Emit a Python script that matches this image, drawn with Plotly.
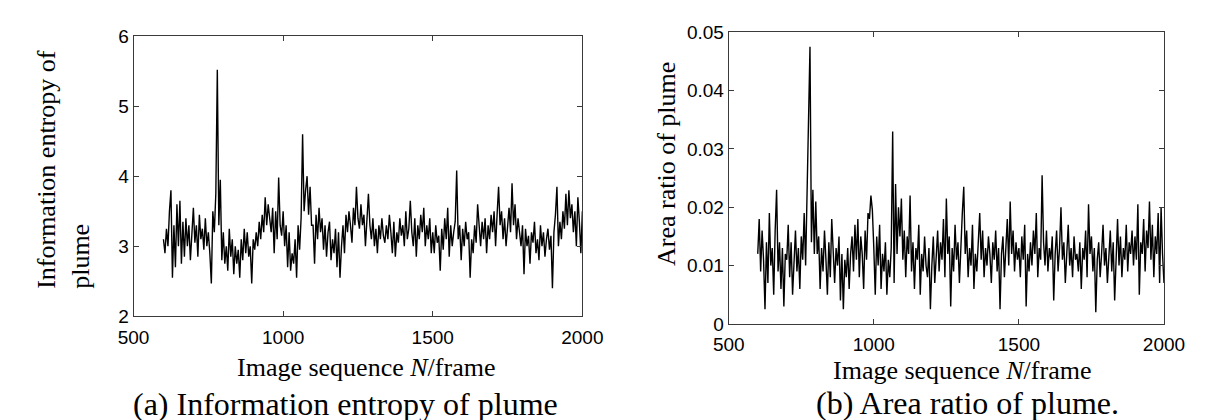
import plotly.graph_objects as go

# ---------------- data (one value every 5 frames) -------------
frames = list(range(600, 2001, 5))

entropy = [
    3.1, 2.9, 3.25, 3.0, 3.5, 3.8, 2.55, 3.3, 2.7, 3.6, 3.0, 3.65, 2.75, 3.35, 2.85, 3.4, 3.0, 3.3, 2.8, 3.15,
    3.55, 3.05, 3.3, 2.85, 3.45, 3.1, 3.25, 2.95, 3.4, 3.0, 3.2, 2.9, 2.47, 3.5, 3.2, 3.75, 5.52, 3.3, 3.95, 2.8,
    3.2, 2.75, 3.0, 2.65, 3.25, 2.85, 3.1, 2.6, 3.0, 2.75, 2.95, 2.55, 3.1, 2.8, 3.25, 2.9, 3.2, 2.85, 3.0, 2.47,
    3.1, 2.95, 3.2, 3.0, 3.35, 3.1, 3.45, 3.2, 3.7, 3.3, 3.6, 3.4, 3.2, 3.55, 2.9, 3.5, 3.1, 3.98, 3.3, 3.15,
    3.5, 3.0, 3.3, 2.7, 3.2, 2.65, 2.9, 2.75, 3.1, 2.55, 3.3, 2.95, 3.4, 4.6, 3.5, 3.8, 4.0, 3.45, 3.85, 3.3,
    3.3, 2.75, 3.45, 3.1, 3.55, 3.2, 3.4, 2.95, 3.3, 2.85, 3.2, 3.35, 2.8, 3.1, 2.9, 3.25, 2.7, 3.2, 2.55, 3.0,
    3.3, 2.9, 3.45, 3.2, 3.5, 3.3, 3.05, 3.55, 3.3, 3.85, 3.4, 3.25, 3.6, 3.3, 3.45, 3.0, 3.5, 3.75, 3.3, 3.1,
    3.4, 3.0, 3.25, 2.9, 3.3, 3.1, 3.4, 3.15, 3.05, 3.3, 3.1, 3.45, 3.2, 2.9, 3.35, 2.85, 3.2, 3.05, 3.4, 3.15,
    3.3, 3.0, 3.5, 3.1, 3.25, 3.65, 3.2, 3.0, 3.4, 2.85, 3.3, 3.1, 3.45, 3.2, 3.55, 3.0, 3.3, 3.1, 3.4, 2.9,
    3.2, 2.9, 3.3, 3.05, 3.15, 2.65, 3.25, 2.95, 3.4, 3.1, 3.55, 2.85, 3.3, 3.0, 3.2, 3.35, 4.08, 3.1, 3.3, 2.8,
    3.25, 3.0, 3.35, 3.1, 3.2, 2.55, 3.1, 2.9, 3.3, 3.05, 3.6, 3.2, 3.0, 3.35, 3.1, 3.4, 2.9, 3.3, 3.1, 3.45,
    3.2, 3.5, 3.0, 3.45, 3.85, 3.3, 3.5, 3.1, 3.4, 3.0, 3.35, 3.55, 3.2, 3.9, 3.3, 3.6, 3.1, 3.4, 3.2, 3.0,
    3.3, 2.6, 3.25, 3.0, 3.15, 2.75, 3.2, 3.05, 3.35, 2.9, 3.1, 2.8, 3.3, 3.0, 3.2, 2.85, 3.1, 3.25, 2.95, 3.15,
    2.4, 3.2, 3.45, 3.85, 3.0, 3.35, 3.1, 3.5, 3.25, 3.75, 3.3, 3.8, 3.4, 3.6, 3.2, 3.5, 3.0, 3.7, 3.35, 2.9,
    3.5,
]

area_ratio = [
    0.012, 0.018, 0.009, 0.016, 0.011, 0.0025, 0.014, 0.007, 0.019, 0.01, 0.013, 0.005, 0.016, 0.023, 0.009, 0.014, 0.006, 0.013, 0.003, 0.012,
    0.011, 0.017, 0.008, 0.014, 0.005, 0.012, 0.016, 0.009, 0.013, 0.006, 0.015, 0.011, 0.019, 0.01, 0.022, 0.032, 0.0475, 0.014, 0.023, 0.012,
    0.021, 0.012, 0.015, 0.006, 0.013, 0.009, 0.016, 0.011, 0.005, 0.014, 0.008, 0.018, 0.012, 0.007, 0.013, 0.01, 0.015, 0.004, 0.012, 0.0025,
    0.011, 0.008, 0.013, 0.006, 0.012, 0.015, 0.009, 0.017, 0.011, 0.018, 0.008, 0.015, 0.012, 0.006, 0.016, 0.011, 0.019, 0.018, 0.022, 0.0195,
    0.013, 0.005, 0.015, 0.01, 0.017, 0.006, 0.012, 0.009, 0.014, 0.005, 0.011, 0.008, 0.013, 0.033, 0.007, 0.024, 0.012, 0.02, 0.015, 0.0215,
    0.011, 0.016, 0.008, 0.015, 0.012, 0.022, 0.009, 0.014, 0.006, 0.013, 0.011, 0.017, 0.005, 0.012, 0.009, 0.015, 0.01, 0.008, 0.013, 0.0025,
    0.01, 0.015, 0.007, 0.012, 0.016, 0.009, 0.014, 0.011, 0.018, 0.008, 0.0215, 0.012, 0.015, 0.003, 0.013, 0.009, 0.017, 0.011, 0.014, 0.007,
    0.015, 0.019, 0.0235, 0.012, 0.016, 0.008, 0.013, 0.01, 0.017, 0.006, 0.012, 0.009, 0.014, 0.019, 0.011, 0.016, 0.008, 0.013, 0.01, 0.015,
    0.012, 0.007, 0.014, 0.011, 0.016, 0.009, 0.013, 0.0025, 0.012, 0.015, 0.008, 0.013, 0.018, 0.01, 0.021, 0.012, 0.016, 0.009, 0.014, 0.011,
    0.013, 0.008, 0.015, 0.011, 0.017, 0.003, 0.012, 0.009, 0.014, 0.01, 0.016, 0.012, 0.019, 0.008, 0.013, 0.011, 0.0255, 0.014, 0.01, 0.016,
    0.009, 0.013, 0.011, 0.015, 0.004, 0.012, 0.016, 0.009, 0.013, 0.02, 0.011, 0.014, 0.007, 0.012, 0.017, 0.01, 0.013, 0.008, 0.015, 0.011,
    0.012, 0.009, 0.014, 0.006, 0.013, 0.011, 0.016, 0.008, 0.0205, 0.012, 0.015, 0.009, 0.013, 0.002, 0.011, 0.014, 0.008, 0.012, 0.017, 0.01,
    0.013, 0.007, 0.012, 0.016, 0.009, 0.014, 0.004, 0.012, 0.018, 0.01, 0.015, 0.008, 0.013, 0.011, 0.017, 0.009, 0.014, 0.012, 0.016, 0.01,
    0.015, 0.011, 0.0205, 0.005, 0.014, 0.012, 0.018, 0.009, 0.016, 0.013, 0.021, 0.011, 0.017, 0.008, 0.015, 0.012, 0.019, 0.007, 0.02, 0.012,
    0.007,
]

x_ticks = [500, 1000, 1500, 2000]
entropy_ticks = [2, 3, 4, 5, 6]
ratio_ticks = [0, 0.01, 0.02, 0.03, 0.04, 0.05]
ratio_tick_labels = ["0", "0.01", "0.02", "0.03", "0.04", "0.05"]

# ---------------- figure ----------------
W, H = 1208, 420
TICKFONT = dict(family="Arial, Liberation Sans, sans-serif", size=19, color="black")
SERIF = "Times New Roman, Liberation Serif, serif"


def px_x(p):
    return p / W


def px_y(p):
    return (H - p) / H


fig = go.Figure()
fig.add_trace(go.Scatter(x=frames, y=entropy, mode="lines",
                         line=dict(color="black", width=1.4), xaxis="x", yaxis="y",
                         showlegend=False, hoverinfo="skip"))
fig.add_trace(go.Scatter(x=frames, y=area_ratio, mode="lines",
                         line=dict(color="black", width=1.4), xaxis="x2", yaxis="y2",
                         showlegend=False, hoverinfo="skip"))

axis_common = dict(showline=True, linecolor="#3a3a3a", linewidth=1, mirror="allticks",
                   ticks="inside", ticklen=5, tickcolor="#3a3a3a", showgrid=False,
                   zeroline=False, tickfont=TICKFONT, fixedrange=True)

fig.update_layout(
    width=W, height=H, autosize=False,
    margin=dict(l=0, r=0, t=0, b=0),
    paper_bgcolor="white", plot_bgcolor="white",
    xaxis=dict(domain=[px_x(113), px_x(576)], range=[500, 2000], tickvals=x_ticks,
               anchor="y", ticklabelstandoff=4, **axis_common),
    yaxis=dict(domain=[px_y(314), px_y(19)], range=[2, 6], tickvals=entropy_ticks,
               anchor="x", **axis_common),
    xaxis2=dict(domain=[px_x(727), px_x(1176)], range=[500, 2000], tickvals=x_ticks,
                anchor="y2", ticklabelstandoff=3, **axis_common),
    yaxis2=dict(domain=[px_y(322), px_y(15)], range=[0, 0.05], tickvals=ratio_ticks,
                ticktext=ratio_tick_labels, anchor="x2", **axis_common),
)

ann = [
    # left y title (two lines, rotated)
    dict(text="Information entropy of<br>plume", x=px_x(40), y=px_y(159), textangle=-90,
         align="left", xanchor="center", yanchor="middle", font=dict(family=SERIF, size=26)),
    # right y title
    dict(text="Area ratio of plume", x=px_x(663), y=px_y(154), textangle=-90,
         xanchor="center", yanchor="middle", font=dict(family=SERIF, size=26)),
    # x titles
    dict(text="Image sequence <i>N</i>/frame", x=px_x(218), y=px_y(368),
         xanchor="left", yanchor="middle", font=dict(family=SERIF, size=26)),
    dict(text="Image sequence <i>N</i>/frame", x=px_x(833), y=px_y(371),
         xanchor="left", yanchor="middle", font=dict(family=SERIF, size=26)),
    # captions
    dict(text="(a) Information entropy of plume", x=px_x(110), y=px_y(406),
         xanchor="left", yanchor="middle", font=dict(family=SERIF, size=32)),
    dict(text="(b) Area ratio of plume.", x=px_x(815), y=px_y(405),
         xanchor="left", yanchor="middle", font=dict(family=SERIF, size=32)),
]
for a in ann:
    a.update(xref="paper", yref="paper", showarrow=False)
    a["font"]["color"] = "black"
fig.update_layout(annotations=ann)

fig.write_html("out.html", config={"displayModeBar": False})
